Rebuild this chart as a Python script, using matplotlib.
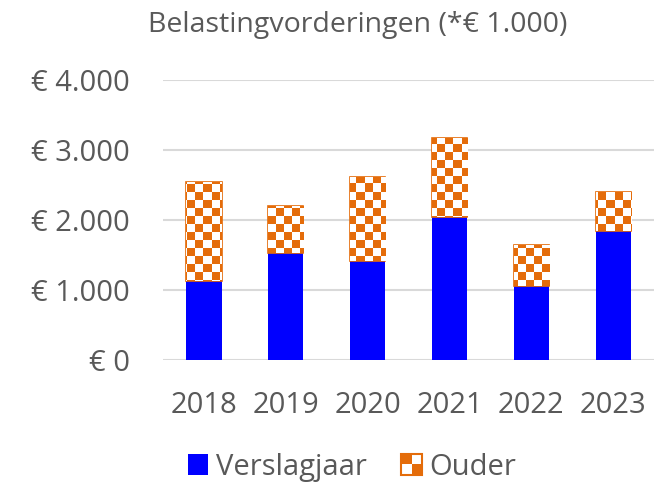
import numpy as np
import matplotlib
matplotlib.use("Agg")
import matplotlib.pyplot as plt
from matplotlib.colors import ListedColormap
from matplotlib.patches import Rectangle

# data (x 1000 euro)
years = ["2018", "2019", "2020", "2021", "2022", "2023"]
verslagjaar = [1130, 1535, 1420, 2040, 1060, 1845]
ouder = [1410, 660, 1200, 1125, 585, 550]
yticks = [0, 1000, 2000, 3000, 4000]
ytick_labels = ["€ 0", "€ 1.000", "€ 2.000", "€ 3.000", "€ 4.000"]

BLUE = "#0000FF"
ORANGE = "#E46C0A"
TXT = "#595959"

plt.rcParams['font.family'] = ['Open Sans', 'DejaVu Sans']


class CheckerHandler:
    def legend_artist(self, legend, orig_handle, fontsize, handlebox):
        x0, y0 = handlebox.xdescent, handlebox.ydescent
        s = min(handlebox.width, handlebox.height)
        tr = handlebox.get_transform()
        bg = Rectangle((x0, y0), s, s, facecolor="white", edgecolor=ORANGE,
                       lw=1.5, transform=tr)
        handlebox.add_artist(bg)
        for dx, dy in [(0, 1), (1, 0)]:
            handlebox.add_artist(Rectangle((x0 + dx * s / 2, y0 + dy * s / 2), s / 2, s / 2,
                                           facecolor=ORANGE, lw=0, transform=tr))
        return bg


fig = plt.figure(figsize=(6.64, 4.88), dpi=100)
ax = fig.add_axes([0.2455, 0.2623, 0.7395, 0.5738])

x = np.arange(len(years))
w = 0.43
b1 = ax.bar(x, verslagjaar, w, color=BLUE, zorder=3, label="Verslagjaar")
b2 = ax.bar(x, ouder, w, bottom=verslagjaar, facecolor="white", edgecolor=ORANGE,
            lw=1.2, zorder=3, label="Ouder")

# checkerboard fill, ~8px cells, clipped to each bar
ny, nx = 35, 61
board = np.indices((ny, nx)).sum(0) % 2
cmap = ListedColormap([ORANGE, "white"])
for patch in b2:
    im = ax.imshow(board, cmap=cmap, extent=(0, 1, 0, 1), transform=ax.transAxes,
                   aspect="auto", interpolation="nearest", zorder=3.5)
    im.set_clip_path(patch)

ax.set_xlim(-0.5, len(years) - 0.5)
ax.set_ylim(0, 4000)
ax.set_xticks(x)
ax.set_xticklabels(years)
ax.set_yticks(yticks)
ax.set_yticklabels(ytick_labels)
ax.tick_params(length=0, labelsize=21, colors=TXT)
ax.tick_params(axis="y", pad=24)
ax.tick_params(axis="x", pad=22)
ax.grid(axis="y", color="#D9D9D9", lw=1.5, zorder=0)
ax.set_axisbelow(True)
for sp in ax.spines.values():
    sp.set_visible(False)

fig.text(0.538, 0.948, "Belastingvorderingen (*€ 1.000)", ha="center", va="center",
         fontsize=20.5, color=TXT)

fig.legend([b1[0], b2[0]], ["Verslagjaar", "Ouder"], loc="center",
           bbox_to_anchor=(0.53, 0.043), ncol=2, frameon=False, fontsize=21,
           labelcolor=TXT, handlelength=0.7, handleheight=0.7, handletextpad=0.25,
           columnspacing=1.2, handler_map={b2[0]: CheckerHandler()})

fig.savefig("out.png", dpi=100)
